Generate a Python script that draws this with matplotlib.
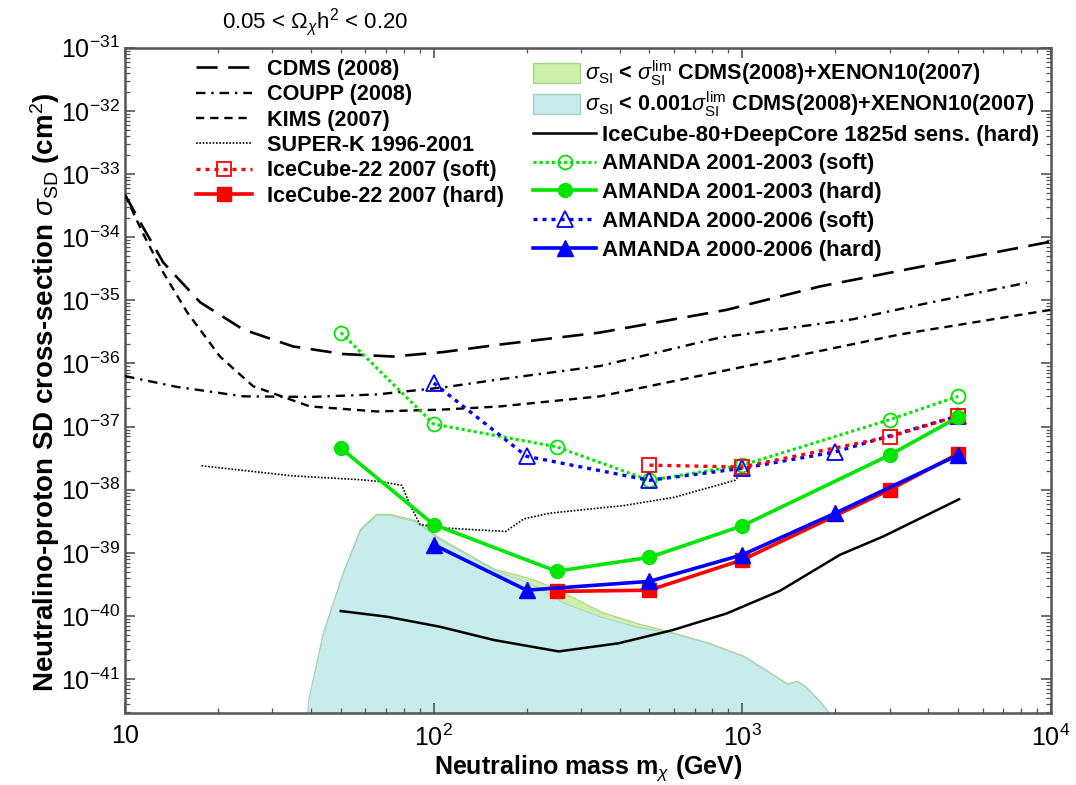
import matplotlib
matplotlib.use("Agg")
import matplotlib.pyplot as plt
import numpy as np
from matplotlib.lines import Line2D
from matplotlib.patches import Patch
from matplotlib.ticker import LogLocator, NullFormatter

plt.rcParams.update({
    "font.family": ["Liberation Sans", "DejaVu Sans"],
    "mathtext.fontset": "custom",
    "mathtext.rm": "Liberation Sans",
    "mathtext.it": "Liberation Sans:italic",
    "mathtext.bf": "Liberation Sans:bold",
})

# --- direct detection limits (log10 sigma_SD / cm^2) ---
cdms_m = [10, 11.4, 13.3, 17.5, 24.1, 35, 50.8, 73.8, 107, 164, 346, 891, 1783, 3758, 10000]
cdms_lg = [-33.33, -33.83, -34.40, -35.03, -35.46, -35.73, -35.85, -35.89, -35.82, -35.70,
           -35.51, -35.15, -34.78, -34.47, -34.07]

coupp_m = [10, 14.7, 24.1, 39.7, 65.5, 107, 164, 346, 845, 2280, 3758, 8360]
coupp_lg = [-36.20, -36.37, -36.52, -36.53, -36.49, -36.38, -36.25, -36.04, -35.59, -35.30,
            -35.07, -34.72]

kims_m = [10, 11.4, 13.3, 15.9, 20.3, 26, 39.7, 65.5, 107, 164, 346, 990, 3240, 10000]
kims_lg = [-33.33, -33.93, -34.56, -35.19, -35.89, -36.36, -36.68, -36.76, -36.73, -36.68,
           -36.52, -36.06, -35.54, -35.15]

superk_m = [17.7, 35, 57.7, 67, 78.9, 83.4, 90.3, 104, 171, 196, 238, 413, 600, 946, 1000]
superk_lg = [-37.62, -37.78, -37.84, -37.87, -37.93, -38.22, -38.55, -38.60, -38.66, -38.46,
             -38.37, -38.25, -38.12, -37.85, -37.72]

# --- MSSM scan regions (upper edge) ---
region_m = [38.5, 39.2, 43.8, 50.8, 57.7, 65, 72, 87, 105, 157, 205, 240, 267, 348, 455,
            596, 776, 1012, 1300, 1400, 1500, 1600, 1800, 1950]
region_all_lg = [-42.0, -41.32, -40.25, -39.30, -38.62, -38.38, -38.38, -38.48, -38.77,
                 -39.25, -39.40, -39.53, -39.64, -39.93, -40.11, -40.26, -40.42, -40.63,
                 -40.97, -41.07, -41.02, -41.11, -41.37, -41.6]
region_cut_lg = [-42.0, -41.33, -40.27, -39.32, -38.64, -38.40, -38.40, -38.50, -38.79,
                 -39.27, -39.48, -39.67, -39.80, -40.01, -40.17, -40.27, -40.43, -40.64,
                 -40.98, -41.08, -41.03, -41.12, -41.38, -41.6]

# --- neutrino telescope limits ---
ic80_m = [50, 70.6, 105, 157, 254, 398, 596, 888, 1324, 2070, 2857, 5035]
ic80_lg = [-39.92, -40.01, -40.17, -40.38, -40.56, -40.43, -40.22, -39.96, -39.60, -39.03,
           -38.74, -38.15]

ic22_soft_m = [500, 1000, 3000, 5000]
ic22_soft_lg = [-37.61, -37.64, -37.16, -36.83]
ic22_hard_m = [250, 500, 1000, 3000, 5000]
ic22_hard_lg = [-39.61, -39.59, -39.11, -38.00, -37.43]

am0103_soft_m = [50, 100, 250, 500, 1000, 3000, 5000]
am0103_soft_lg = [-35.51, -36.96, -37.32, -37.85, -37.61, -36.89, -36.52]
am0103_hard_m = [50, 100, 250, 500, 1000, 3000, 5000]
am0103_hard_lg = [-37.34, -38.55, -39.29, -39.07, -38.57, -37.45, -36.85]

am0006_soft_m = [100, 200, 500, 1000, 2000, 5000]
am0006_soft_lg = [-36.31, -37.47, -37.85, -37.66, -37.40, -36.83]
am0006_hard_m = [100, 200, 500, 1000, 2000, 5000]
am0006_hard_lg = [-38.87, -39.59, -39.45, -39.03, -38.37, -37.45]

y_tick_exp = list(range(-41, -30))
x_ticks = [10, 100, 1000, 10000]
x_tick_labels = ["10", "$10^2$", "$10^3$", "$10^4$"]


def sig(lg):
    return 10.0 ** np.asarray(lg)


GREEN = "#00e600"
GREEN_FILL = "#cdf0aa"
GREEN_EDGE = "#a9d488"
CYAN_FILL = "#c8ebeb"
CYAN_EDGE = "#a8d0c4"
DASH_CDMS = (0, (8, 4))
DASH_COUPP = (0, (4, 2.5, 1, 2.5))
DASH_KIMS = (0, (3.5, 2.5))
DOT_SK = (0, (1, 1))
DOT_SOFT = (0, (1.2, 1.5))

fig = plt.figure(figsize=(10.76, 7.85), dpi=100)
ax = fig.add_axes([0.1162, 0.0913, 0.8606, 0.8479])
ax.set_xscale("log")
ax.set_yscale("log")

floor = np.full(len(region_m), 1e-43)
ax.fill_between(region_m, floor, sig(region_all_lg), facecolor=GREEN_FILL,
                edgecolor=GREEN_EDGE, lw=0.8, zorder=1)
ax.fill_between(region_m, floor, sig(region_cut_lg), facecolor=CYAN_FILL,
                edgecolor=CYAN_EDGE, lw=0.6, zorder=1.1)

ax.plot(cdms_m, sig(cdms_lg), color="k", lw=1.9, ls=DASH_CDMS, zorder=3)
ax.plot(coupp_m, sig(coupp_lg), color="k", lw=1.7, ls=DASH_COUPP, zorder=3)
ax.plot(kims_m, sig(kims_lg), color="k", lw=1.7, ls=DASH_KIMS, zorder=3)
ax.plot(superk_m, sig(superk_lg), color="k", lw=1.2, ls=DOT_SK, zorder=3)
ax.plot(ic80_m, sig(ic80_lg), color="k", lw=1.8, zorder=3)

ax.plot(am0103_soft_m, sig(am0103_soft_lg), color=GREEN, lw=2.2, ls=(0, (1, 1)),
        marker="o", ms=10, mfc="none", mew=1.3, zorder=4)
ax.plot(am0006_soft_m, sig(am0006_soft_lg), color="b", lw=2.4, ls=DOT_SOFT,
        marker="^", ms=11, mfc="none", mew=1.3, zorder=4)
ax.plot(ic22_soft_m, sig(ic22_soft_lg), color="r", lw=2.4, ls=DOT_SOFT,
        marker="s", ms=10, mfc="none", mew=1.3, zorder=4)
ax.plot(ic22_hard_m, sig(ic22_hard_lg), color="r", lw=2.6, marker="s", ms=9.5, zorder=5)
ax.plot(am0006_hard_m, sig(am0006_hard_lg), color="b", lw=2.6, marker="^", ms=11, zorder=5)
ax.plot(am0103_hard_m, sig(am0103_hard_lg), color=GREEN, lw=2.6, marker="o", ms=10, zorder=5)

ax.set_xlim(10, 1e4)
ax.set_ylim(sig(-41.54), 1e-31)
ax.set_xticks(x_ticks, x_tick_labels)
ax.set_yticks(sig(y_tick_exp), [f"$10^{{{e}}}$" for e in y_tick_exp])
for axis in (ax.xaxis, ax.yaxis):
    axis.set_minor_locator(LogLocator(base=10, subs=np.arange(2, 10) * 1.0, numticks=100))
    axis.set_minor_formatter(NullFormatter())
ax.tick_params(which="both", direction="in", top=True, right=True, color="#555555",
               labelsize=18)
ax.tick_params(which="major", length=7, width=1.2)
ax.tick_params(which="minor", length=3.5, width=0.9)
ax.tick_params(axis="x", pad=8)
for sp in ax.spines.values():
    sp.set_color("#555555")
    sp.set_linewidth(1.8)

ax.set_xlabel(r"Neutralino mass m$_\chi$ (GeV)", fontsize=18, fontweight="bold")
ax.set_ylabel(r"Neutralino-proton SD cross-section $\sigma_{\rm SD}$ (cm$^2$)",
              fontsize=20, fontweight="bold")
ax.xaxis.set_label_coords(0.5, -0.060)
ax.yaxis.set_label_coords(-0.068, 0.483)

fig.text(0.293, 0.972, r"0.05 < $\Omega_\chi$h$^2$ < 0.20", fontsize=16,
         ha="center", va="center")

# left legend: direct detection + IceCube-22
left_handles = [
    Line2D([], [], color="k", lw=1.9, ls=DASH_CDMS),
    Line2D([], [], color="k", lw=1.7, ls=DASH_COUPP),
    Line2D([], [], color="k", lw=1.7, ls=DASH_KIMS),
    Line2D([], [], color="k", lw=1.2, ls=DOT_SK),
    Line2D([], [], color="r", lw=2.4, ls=DOT_SOFT, marker="s", ms=10,
           mfc="none", mew=1.3),
    Line2D([], [], color="r", lw=2.6, marker="s", ms=9.5),
]
left_labels = ["CDMS (2008)", "COUPP (2008)", "KIMS (2007)", "SUPER-K 1996-2001",
               "IceCube-22 2007 (soft)", "IceCube-22 2007 (hard)"]
leg1 = ax.legend(left_handles, left_labels, loc="upper left",
                 bbox_to_anchor=(0.077, 0.983), frameon=False, borderpad=0,
                 borderaxespad=0, handlelength=2.58, handletextpad=0.69,
                 labelspacing=0.2, prop={"size": 15.6, "weight": "bold"})
ax.add_artist(leg1)

# right legend, upper block: scan regions
region_handles = [
    Patch(facecolor=GREEN_FILL, edgecolor=GREEN_EDGE),
    Patch(facecolor=CYAN_FILL, edgecolor=CYAN_EDGE),
]
region_labels = [
    r"$\sigma_{\rm SI}$ < $\sigma_{\rm SI}^{\rm lim}$ CDMS(2008)+XENON10(2007)",
    r"$\sigma_{\rm SI}$ < 0.001$\sigma_{\rm SI}^{\rm lim}$ CDMS(2008)+XENON10(2007)",
]
leg2 = ax.legend(region_handles, region_labels, loc="upper left",
                 bbox_to_anchor=(0.441, 0.9835), frameon=False, borderpad=0,
                 borderaxespad=0, handlelength=2.16, handleheight=1.05,
                 handletextpad=0.2, labelspacing=0.06,
                 prop={"size": 15.6, "weight": "bold"})
ax.add_artist(leg2)

# right legend, lower block: neutrino telescopes
tel_handles = [
    Line2D([], [], color="k", lw=1.8),
    Line2D([], [], color=GREEN, lw=2.2, ls=(0, (1, 1)), marker="o", ms=10,
           mfc="none", mew=1.3),
    Line2D([], [], color=GREEN, lw=2.6, marker="o", ms=10),
    Line2D([], [], color="b", lw=2.4, ls=DOT_SOFT, marker="^", ms=11,
           mfc="none", mew=1.3),
    Line2D([], [], color="b", lw=2.6, marker="^", ms=11),
]
tel_labels = [
    "IceCube-80+DeepCore 1825d sens. (hard)",
    "AMANDA 2001-2003 (soft)",
    "AMANDA 2001-2003 (hard)",
    "AMANDA 2000-2006 (soft)",
    "AMANDA 2000-2006 (hard)",
]
ax.legend(tel_handles, tel_labels, loc="upper left",
          bbox_to_anchor=(0.441, 0.8846), frameon=False, borderpad=0,
          borderaxespad=0, handlelength=2.8, handletextpad=0.3,
          labelspacing=0.35, prop={"size": 16, "weight": "bold"})

fig.savefig("out.png", dpi=100)
